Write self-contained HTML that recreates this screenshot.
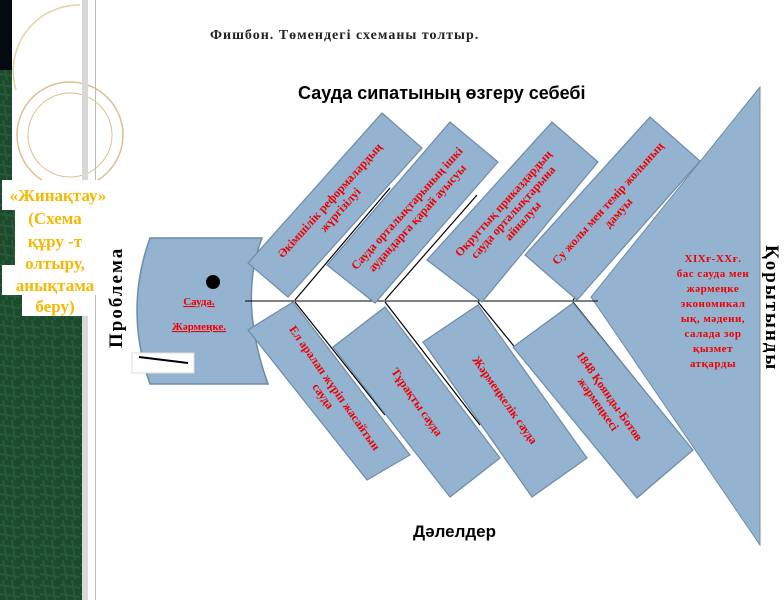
<!DOCTYPE html>
<html><head><meta charset="utf-8"><style>
body{margin:0;width:784px;height:600px;overflow:hidden;background:#fff;}
svg{display:block}
</style></head><body>
<svg width="784" height="600" xmlns="http://www.w3.org/2000/svg">
<defs>
<pattern id="g" width="20" height="20" patternUnits="userSpaceOnUse">
<rect width="20" height="20" fill="#1c4a2c"/>
<path d="M0 5 L20 8 M3 0 L7 20 M12 0 L15 20 M0 14 L20 17" stroke="#2f6a44" stroke-width="2" opacity=".5"/>
</pattern>
</defs>
<rect x="0" y="0" width="82" height="600" fill="url(#g)"/>
<rect x="0" y="0" width="12" height="70" fill="#050a10"/>
<rect x="12" y="0" width="70" height="180" fill="#fff"/>
<path d="M80 5 A66 66 0 0 0 16 90" fill="none" stroke="#e4d2a8" stroke-width="1.5"/>
<circle cx="70" cy="135" r="53" fill="none" stroke="#d8c090" stroke-width="1.5"/>
<circle cx="70" cy="135" r="42" fill="none" stroke="#d8c090" stroke-width="1"/>
<rect x="82" y="0" width="6" height="600" fill="#d8d8d8"/>
<rect x="95" y="0" width="1" height="600" fill="#bbb"/>
<g font-family="Liberation Serif, serif" font-weight="bold" font-size="17" fill="#f5b800" text-anchor="middle">
<rect x="2" y="180" width="116" height="30" fill="#fff"/>
<rect x="15" y="205" width="85" height="90" fill="#fff"/>
<rect x="2" y="265" width="102" height="30" fill="#fff"/>
<rect x="22" y="290" width="66" height="26" fill="#fff"/>
<text x="58" y="201">«Жинақтау»</text>
<text x="55" y="224">(Схема</text>
<text x="55" y="247">құру -т</text>
<text x="55" y="269">олтыру,</text>
<text x="55" y="291">анықтама</text>
<text x="55" y="312">беру)</text>
</g>
<text x="210" y="39" font-family="Liberation Serif, serif" font-weight="bold" font-size="14" fill="#222" letter-spacing="1">Фишбон. Төмендегі схеманы толтыр.</text>
<text x="298" y="99" font-family="Liberation Sans, sans-serif" font-weight="bold" font-size="18" fill="#000">Сауда сипатының өзгеру себебі</text>
<text x="413" y="537" font-family="Liberation Sans, sans-serif" font-weight="bold" font-size="17" fill="#000">Дәлелдер</text>
<text transform="translate(122,348) rotate(-90)" font-family="Liberation Serif, serif" font-weight="bold" font-size="19" fill="#000" letter-spacing="2">Проблема</text>
<text transform="translate(766,245) rotate(90)" font-family="Liberation Serif, serif" font-weight="bold" font-size="19" fill="#000" letter-spacing="2">Қорытынды</text>
<path d="M150 238 L262 238 Q238 300 268 384 L150 384 Q124 310 150 238 Z" fill="#94b3d0" stroke="#6f8ba6" stroke-width="1.5"/>
<circle cx="213" cy="282" r="7" fill="#000"/>
<g font-family="Liberation Serif, serif" font-weight="bold" font-size="11" fill="#e00" text-decoration="underline" text-anchor="middle">
<text x="199" y="305">Сауда.</text>
<text x="199" y="330">Жәрмеңке.</text>
</g>
<rect x="132" y="353" width="62" height="20" fill="#fff" stroke="#ddd"/>
<line x1="139" y1="357" x2="188" y2="363" stroke="#000" stroke-width="2"/>
<polygon points="760,87 591,297 760,545" fill="#94b3d0" stroke="#6f8ba6" stroke-width="1"/>
<line x1="245" y1="301" x2="598" y2="301" stroke="#000" stroke-width="1"/>
<g stroke="#000" stroke-width="1.2">
<line x1="295" y1="300" x2="390" y2="188"/><line x1="385" y1="300" x2="477" y2="195"/>
<line x1="478" y1="300" x2="572" y2="193"/><line x1="573" y1="300" x2="666" y2="195"/>
<line x1="295" y1="302" x2="385" y2="415"/><line x1="385" y1="302" x2="480" y2="425"/>
<line x1="478" y1="302" x2="570" y2="415"/><line x1="573" y1="302" x2="660" y2="410"/>
</g>
<g fill="#94b3d0" stroke="#6f8ba6" stroke-width="1.2">
<polygon points="248,263 382,113 422,148 288,297"/>
<polygon points="327,265 450,122 498,162 375,303"/>
<polygon points="427,260 552,122 598,162 482,302"/>
<polygon points="525,255 650,117 700,161 577,300"/>
<polygon points="248,330 293,302 410,455 367,480"/>
<polygon points="333,347 385,307 500,458 450,497"/>
<polygon points="423,342 478,305 587,458 532,497"/>
<polygon points="513,347 573,303 693,450 637,498"/>
</g>
<g font-family="Liberation Serif, serif" font-weight="bold" font-size="12" fill="#e00" text-anchor="middle">
<text transform="translate(335,205) rotate(-48)"><tspan x="0" y="-3">Әкімшілік реформалардың</tspan><tspan x="0" y="11">жүргізілуі</tspan></text>
<text transform="translate(412,213) rotate(-48)"><tspan x="0" y="-3">Сауда орталықтарының ішкі</tspan><tspan x="0" y="11">аудандарға қарай ауысуы</tspan></text>
<text transform="translate(513,212) rotate(-48)"><tspan x="0" y="-9">Округтық приказдардың</tspan><tspan x="0" y="4">сауда орталықтарына</tspan><tspan x="0" y="17">айналуы</tspan></text>
<text transform="translate(613,208) rotate(-48)"><tspan x="0" y="-3">Су жолы мен темір жолының</tspan><tspan x="0" y="11">дамуы</tspan></text>
<text transform="translate(329,392) rotate(55)"><tspan x="0" y="-3">Ел аралап жүріп жасайтын</tspan><tspan x="0" y="11">сауда</tspan></text>
<text transform="translate(417,402) rotate(55)"><tspan x="0" y="4">Тұрақты сауда</tspan></text>
<text transform="translate(505,400) rotate(55)"><tspan x="0" y="4">Жәрмеңкелік сауда</tspan></text>
<text transform="translate(604,400) rotate(55)"><tspan x="0" y="-3">1848 Қоянды-Ботов</tspan><tspan x="0" y="11">жәрмеңкесі</tspan></text>
</g>
<g font-family="Liberation Serif, serif" font-weight="bold" font-size="11" fill="#e00" text-anchor="middle" letter-spacing="0.5">
<text x="713" y="262">XIXғ-XXғ.</text>
<text x="713" y="277">бас сауда мен</text>
<text x="713" y="292">жәрмеңке</text>
<text x="713" y="307">экономикал</text>
<text x="713" y="322">ық, мәдени,</text>
<text x="713" y="337">салада зор</text>
<text x="713" y="352">қызмет</text>
<text x="713" y="367">атқарды</text>
</g>
</svg>
</body></html>
